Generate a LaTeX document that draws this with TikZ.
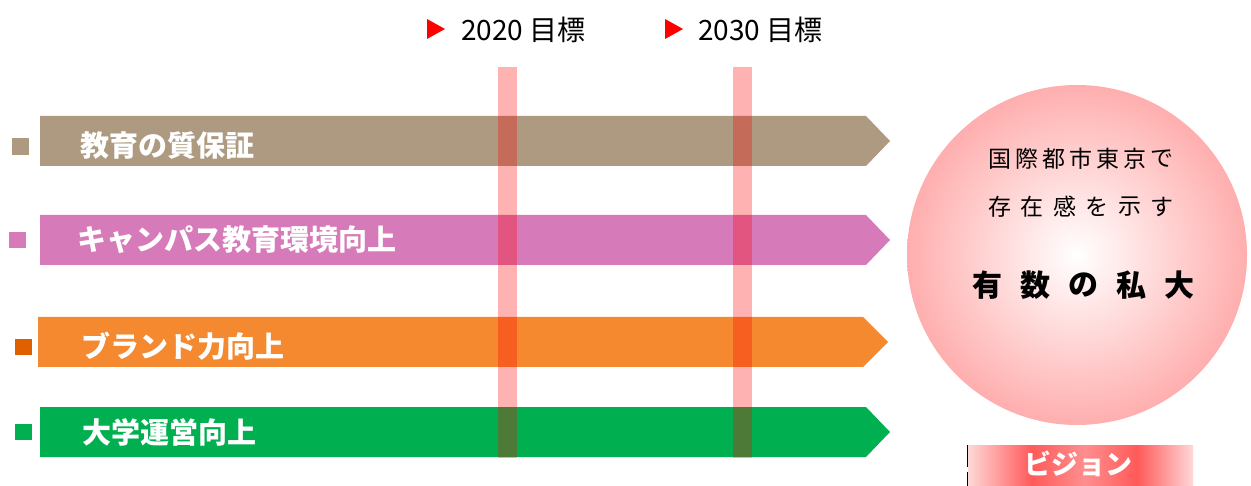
\documentclass[tikz,border=0pt]{standalone}
\usepackage{fontspec}
\setmainfont{Noto Sans CJK JP}
\definecolor{vislight}{HTML}{FFD8D8}
\definecolor{visred}{HTML}{FF5A5A}
\definecolor{vismid}{HTML}{FF8E8E}
\pgfdeclarehorizontalshading{visshade}{100bp}{color(0bp)=(vislight); color(25bp)=(vislight); color(39.2bp)=(visred); color(50.9bp)=(vismid); color(62.6bp)=(visred); color(75bp)=(vislight); color(100bp)=(vislight)}
\begin{document}
\begin{tikzpicture}[x=1pt,y=-1pt,
  lbl/.style={anchor=west,text=white,font=\fontsize{29}{29}\selectfont\bfseries,inner sep=0pt},
  goal/.style={anchor=west,font=\fontsize{28}{28}\selectfont,inner sep=0pt},
  bar/.style={fill=red,fill opacity=0.3},
  tri/.style={fill=red},
  bul/.style={minimum size=16.5pt,inner sep=0pt}]
\definecolor{brownA}{HTML}{AD9A80}
\definecolor{pinkA}{HTML}{D67AB9}
\definecolor{orangeA}{HTML}{F4892F}
\definecolor{orangeB}{HTML}{E06000}
\definecolor{greenA}{HTML}{00B050}
\definecolor{circpink}{HTML}{FFAEAE}
\useasboundingbox (0,0) rectangle (1251,486);
% arrows
\fill[brownA] (40,116) -- (866,116) -- (890,141) -- (866,166) -- (40,166) -- cycle;
\fill[pinkA] (40,215) -- (866,215) -- (890,240) -- (866,265) -- (40,265) -- cycle;
\fill[orangeA] (38,317) -- (863,317) -- (888,342) -- (863,367) -- (38,367) -- cycle;
\fill[greenA] (40,407) -- (866,407) -- (890,432) -- (866,457) -- (40,457) -- cycle;
% bullets
\node[bul,fill=brownA] (b1) at (20.5,146.5) {};
\node[bul,fill=pinkA] (b2) at (17.5,240) {};
\node[bul,fill=orangeB] (b3) at (23.5,347) {};
\node[bul,fill=greenA] (b4) at (23.5,432) {};
% labels
\node[lbl] (l1) at (80,146) {教育の質保証};
\node[lbl] (l2) at (77,240) {キャンパス教育環境向上};
\node[lbl] (l3) at (81,346) {ブランド力向上};
\node[lbl] (l4) at (82,432) {大学運営向上};
% bars
\fill[bar] (498,67) rectangle (517,458);
\fill[bar] (733,67) rectangle (752,458);
% goals
\fill[tri] (427,19) -- (445,29) -- (427,39) -- cycle;
\fill[tri] (665,19) -- (683,29) -- (665,39) -- cycle;
\node[goal] (g1) at (461,30) {2020 目標};
\node[goal] (g2) at (698,30) {2030 目標};
% circle
\node[circle,minimum size=340pt,inner sep=0pt,inner color=white,outer color=circpink] (vision) at (1077,255) {};
\foreach \c [count=\i] in {国,際,都,市,東,京,で}
  \node[font=\fontsize{23}{23}\selectfont,inner sep=0pt] (a\i) at ({1000+27*(\i-1)},159) {\c};
\foreach \c [count=\i] in {存,在,感,を,示,す}
  \node[font=\fontsize{23}{23}\selectfont,inner sep=0pt] (s\i) at ({1000+32.4*(\i-1)},207) {\c};
\foreach \c [count=\i] in {有,数,の,私,大}
  \node[font=\fontsize{30}{30}\selectfont\bfseries,inner sep=0pt] (u\i) at ({987+48*(\i-1)},285) {\c};
% vision box
\shade[shading=visshade] (968,445) rectangle (1193,486);
\node[text=white,font=\fontsize{27}{27}\selectfont\bfseries,inner sep=0pt] (vt) at (1078,464) {ビジョン};
\draw[line width=1.5pt] (967.5,445) -- (967.5,467);
\draw[line width=1.5pt] (967.5,472) -- (967.5,486);
\end{tikzpicture}
\end{document}
